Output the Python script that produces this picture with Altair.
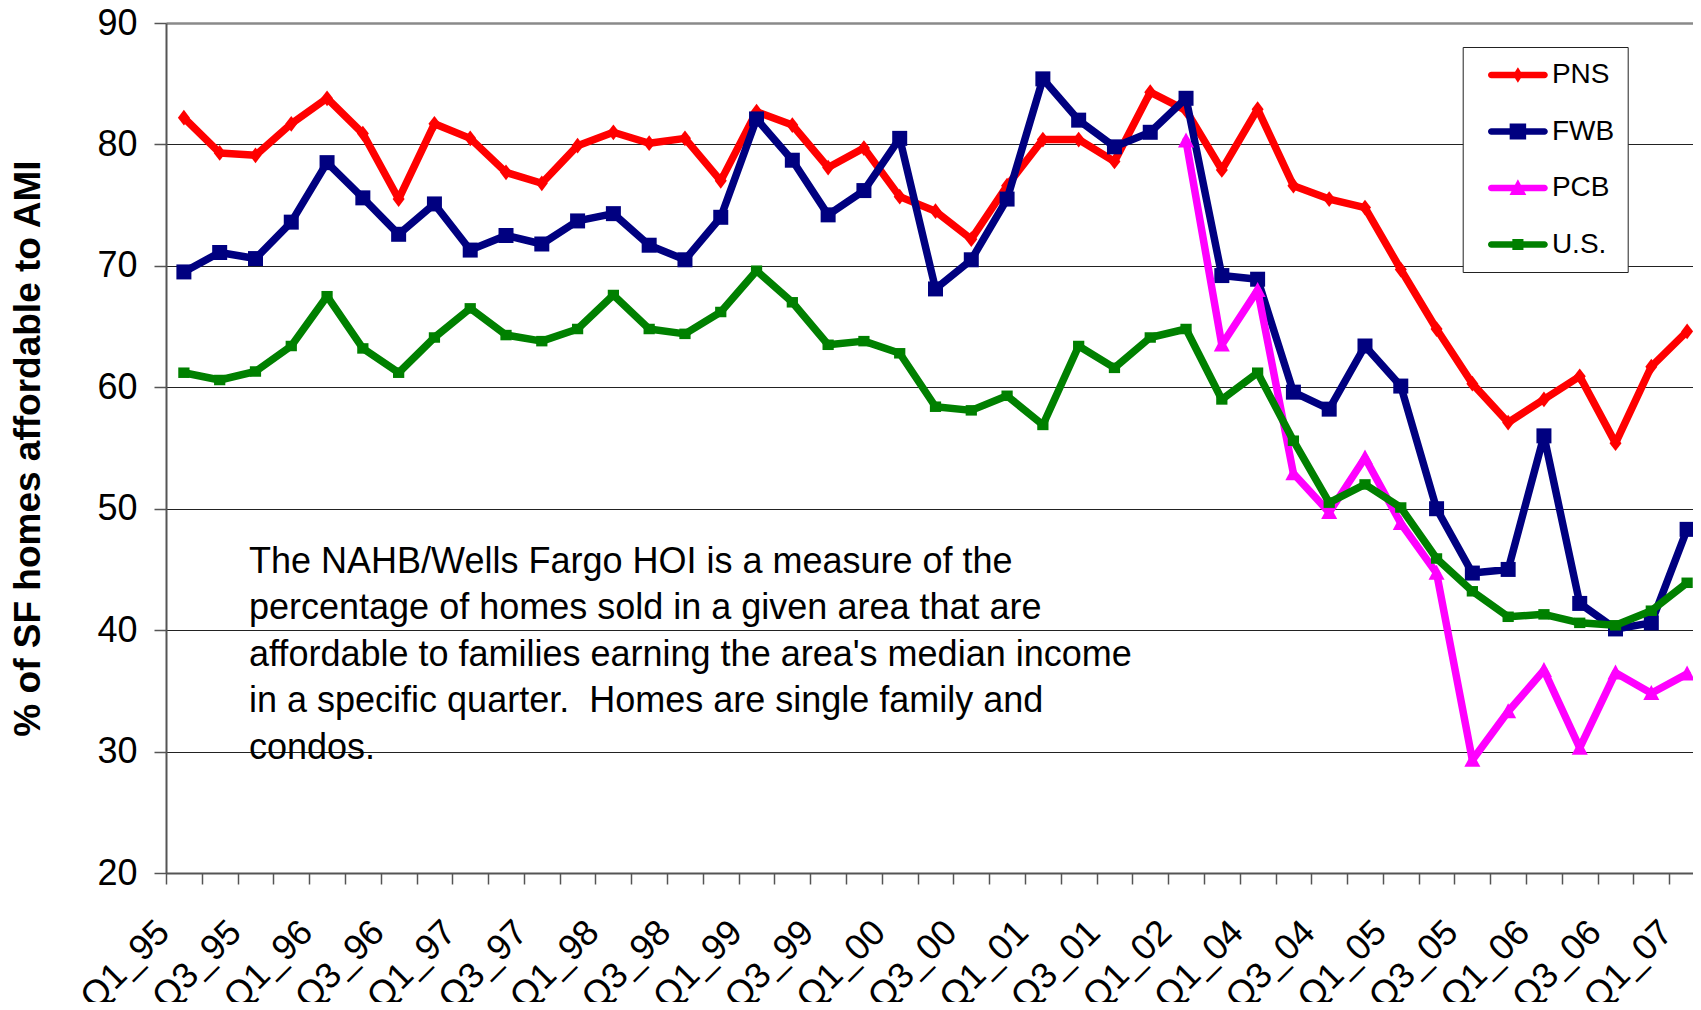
import altair as alt
import pandas as pd

FONT = "Liberation Sans, Arial, sans-serif"

CATEGORIES = [
    "Q1_95", "Q2_95", "Q3_95", "Q4_95", "Q1_96", "Q2_96", "Q3_96", "Q4_96",
    "Q1_97", "Q2_97", "Q3_97", "Q4_97", "Q1_98", "Q2_98", "Q3_98", "Q4_98",
    "Q1_99", "Q2_99", "Q3_99", "Q4_99", "Q1_00", "Q2_00", "Q3_00", "Q4_00",
    "Q1_01", "Q2_01", "Q3_01", "Q4_01", "Q1_02", "Q4_03",
    "Q1_04", "Q2_04", "Q3_04", "Q4_04", "Q1_05", "Q2_05", "Q3_05", "Q4_05",
    "Q1_06", "Q2_06", "Q3_06", "Q4_06", "Q1_07",
]

PNS = [82.2, 79.3, 79.1, 81.7, 83.8, 80.9, 75.5, 81.7, 80.5, 77.7, 76.8,
       79.9, 81.0, 80.1, 80.5, 77.0, 82.7, 81.6, 78.1, 79.7, 75.7, 74.5,
       72.2, 76.6, 80.4, 80.4, 78.6, 84.3, 82.8, 77.9, 82.9, 76.6, 75.5,
       74.8, 69.7, 64.8, 60.3, 57.1, 59.0, 60.9, 55.4, 61.7, 64.6]

FWB = [69.5, 71.1, 70.6, 73.6, 78.5, 75.6, 72.6, 75.1, 71.3, 72.5, 71.8,
       73.7, 74.3, 71.7, 70.5, 74.0, 82.1, 78.7, 74.2, 76.2, 80.5, 68.1,
       70.5, 75.5, 85.4, 82.0, 79.8, 81.0, 83.8, 69.2, 68.9, 59.6, 58.2,
       63.4, 60.1, 50.0, 44.7, 45.0, 56.0, 42.2, 40.1, 40.6, 48.3]

PCB = [None] * 28 + [80.3, 63.5, 68.0, 52.9, 49.7, 54.2, 48.8, 44.7, 29.3,
                     33.3, 36.7, 30.3, 36.5, 34.8, 36.4]

US = [61.2, 60.6, 61.3, 63.4, 67.5, 63.2, 61.2, 64.1, 66.5, 64.3, 63.8,
      64.8, 67.6, 64.8, 64.4, 66.2, 69.6, 67.0, 63.5, 63.8, 62.8, 58.4,
      58.1, 59.3, 56.9, 63.4, 61.6, 64.1, 64.8, 59.0, 61.2, 55.6, 50.5,
      52.0, 50.1, 45.9, 43.2, 41.1, 41.3, 40.6, 40.4, 41.6, 43.9]

SERIES = ["PNS", "FWB", "PCB", "U.S."]
COLORS = ["#FF0000", "#000080", "#FF00FF", "#008000"]
Y_TICKS = [20, 30, 40, 50, 60, 70, 80, 90]
Y_TITLE = "% of SF homes affordable to AMI"

NOTE_LINES = [
    "The NAHB/Wells Fargo HOI is a measure of the",
    "percentage of homes sold in a given area that are",
    "affordable to families earning the area's median income",
    "in a specific quarter.\u00a0 Homes are single family and",
    "condos.",
]

# marker shapes (unit = sqrt(size)/2 px)
MARKERS = [
    "M0,-1.05L0.8,0L0,1.05L-0.8,0Z",
    "M-1,-1H1V1H-1Z",
    "M0,-1.1L1.07,0.9L-1.07,0.9Z",
    "M-0.75,-0.7H0.75V0.7H-0.75Z",
]

LINE_PART = ("M-1.77,-0.223H1.77A0.223,0.223 0 0 1 1.77,0.223"
             "H-1.77A0.223,0.223 0 0 1 -1.77,-0.223Z")
LEGEND_SHAPES = [
    LINE_PART + "M0,-0.52L0.33,0L0,0.52L-0.33,0Z",
    LINE_PART + "M-0.55,-0.53H0.55V0.53H-0.55Z",
    LINE_PART + "M0,-0.58L0.56,0.47L-0.56,0.47Z",
    LINE_PART + "M-0.37,-0.37H0.37V0.37H-0.37Z",
]

rows = []
for name, vals in zip(SERIES, [PNS, FWB, PCB, US]):
    for i, (c, v) in enumerate(zip(CATEGORIES, vals)):
        if v is not None:
            rows.append({"quarter": c, "series": name, "value": v, "order": i})
df = pd.DataFrame(rows)

PLOT_W = 1539
PLOT_H = 850
STEP = PLOT_W / len(CATEGORIES)

x_enc = alt.X(
    "quarter:N",
    scale=alt.Scale(type="point", domain=CATEGORIES, padding=0.5),
    axis=alt.Axis(
        title=None, grid=False,
        labelAngle=-45, labelAlign="right", labelBaseline="alphabetic",
        labelFont=FONT, labelFontSize=36, labelColor="black",
        labelPadding=50, labelOffset=5, tickOffset=-STEP / 2,
        tickSize=11, tickWidth=1.5, tickColor="#555555",
        domainColor="#555555", domainWidth=2,
        labelOverlap=False, labelBound=False,
        labelExpr="test(/^Q[13]_/, datum.label) ? datum.label : ''",
    ),
)
y_enc = alt.Y(
    "value:Q",
    scale=alt.Scale(domain=[20, 90], nice=False, zero=False),
    axis=alt.Axis(
        title=Y_TITLE, titleFont=FONT, titleFontSize=37, titleFontWeight="bold",
        titleColor="black", titleAngle=270, titleX=-138, titleY=PLOT_H / 2,
        titleAlign="center", titleBaseline="middle",
        values=Y_TICKS, labelFont=FONT, labelFontSize=36, labelColor="black",
        labelPadding=17, tickSize=12, tickWidth=1.5, tickColor="#555555",
        domainColor="#555555", domainWidth=2,
        grid=True,
        gridColor={"condition": {"test": "datum.value === 90", "value": "#8a8a8a"},
                   "value": "#222222"},
        gridWidth={"condition": {"test": "datum.value === 90", "value": 2.5},
                   "value": 1},
    ),
)
# colour scale used by the legend
color_scale = alt.Scale(domain=SERIES, range=COLORS)
# same mapping for the drawn lines/markers (listed in reverse so that the
# hidden stroke/fill legends are not merged with the visible one)
mark_scale = alt.Scale(domain=SERIES[::-1], range=COLORS[::-1])

layers = []
note_df = pd.DataFrame({"note": ["\n".join(NOTE_LINES)]})
layers.append(
    alt.Chart(note_df).mark_text(
        align="left", baseline="alphabetic", font=FONT, fontSize=36,
        lineHeight=46.4, lineBreak="\n", color="black"
    ).encode(x=alt.value(83), y=alt.value(550), text="note:N")
)

for name, marker in zip(SERIES, MARKERS):
    sub = alt.Chart(df).transform_filter(alt.datum.series == name)
    layers.append(
        sub.mark_line(strokeWidth=7.5, strokeJoin="round", strokeCap="round").encode(
            x=x_enc, y=y_enc, order=alt.Order("order:Q"),
            stroke=alt.Stroke("series:N", scale=mark_scale, legend=None),
        )
    )
    layers.append(
        sub.mark_point(filled=True, opacity=1, strokeWidth=0, shape=marker, size=225).encode(
            x=x_enc, y=y_enc,
            fill=alt.Fill("series:N", scale=mark_scale, legend=None),
        )
    )

legend_props = dict(
    title=None, orient="none", legendX=1296.7, legendY=24,
    symbolSize=900, symbolStrokeWidth=0, symbolOffset=27.2,
    labelOffset=19, labelFont=FONT, labelFontSize=28, labelColor="black",
    labelExpr="datum.label + '    '",
    padding=13, rowPadding=27.5, strokeColor="#222222", fillColor="white",
)
layers.append(
    alt.Chart(df).transform_filter("false").mark_point(
        filled=True, opacity=1, strokeWidth=0
    ).encode(
        x=x_enc, y=y_enc,
        color=alt.Color("series:N", scale=color_scale, legend=alt.Legend(**legend_props)),
        shape=alt.Shape("series:N", scale=alt.Scale(domain=SERIES, range=LEGEND_SHAPES),
                        legend=alt.Legend(**legend_props)),
    )
)

chart = alt.layer(*layers).properties(
    width=PLOT_W, height=PLOT_H,
    autosize="none",
    padding={"left": 158, "top": 15, "right": -12, "bottom": 129},
).configure_view(stroke=None).configure(background="white")

chart.save("out.html", embed_options={"renderer": "svg", "actions": False})
